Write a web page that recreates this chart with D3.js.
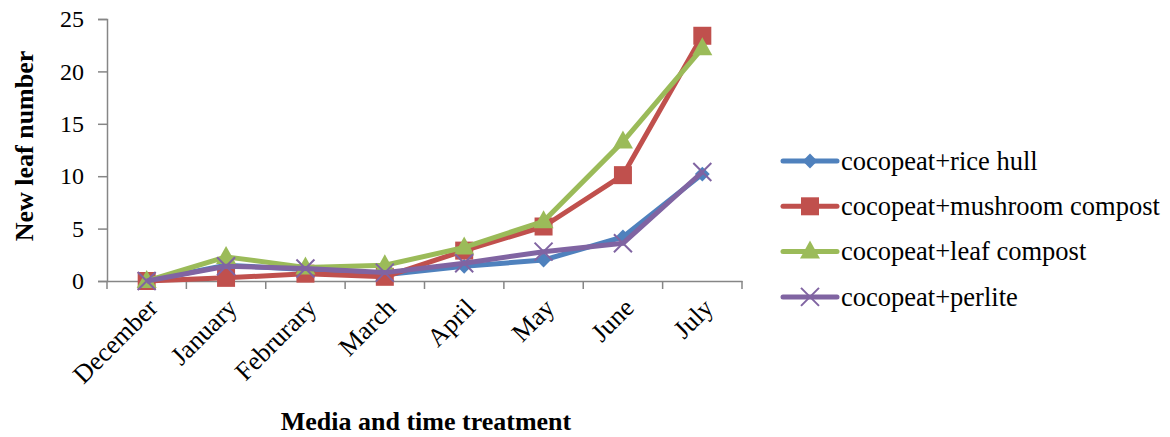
<!DOCTYPE html>
<html>
<head>
<meta charset="utf-8">
<script src="https://cdn.jsdelivr.net/npm/d3@7"></script>
<style>
  body { margin: 0; background: #fff; }
  text { font-family: "Liberation Serif", "Times New Roman", serif; fill: #000; }
</style>
</head>
<body>
<div class="chart"></div>
<script>
const months = ['December', 'January', 'Februrary', 'March', 'April', 'May', 'June', 'July'];
const riceHull = [0, 1.5, 1.1, 0.6, 1.4, 2.0, 4.2, 10.2];
const mushroomCompost = [0, 0.3, 0.7, 0.4, 2.9, 5.2, 10.1, 23.4];
const leafCompost = [0, 2.3, 1.3, 1.5, 3.2, 5.7, 13.3, 22.2];
const perlite = [0, 1.4, 1.2, 0.8, 1.7, 2.8, 3.6, 10.4];
const yTicks = [0, 5, 10, 15, 20, 25];

const series = [
  { name: 'cocopeat+rice hull', values: riceHull, color: '#4F81BD', marker: 'diamond' },
  { name: 'cocopeat+mushroom compost', values: mushroomCompost, color: '#C0504D', marker: 'square' },
  { name: 'cocopeat+leaf compost', values: leafCompost, color: '#9BBB59', marker: 'triangle' },
  { name: 'cocopeat+perlite', values: perlite, color: '#8064A2', marker: 'x' }
];

const width = 1170, height = 437;
const plot = { left: 107, right: 742, top: 19, bottom: 281 };

const svg = d3.select('.chart')
  .append('svg')
  .attr('width', width)
  .attr('height', height);

const x = d3.scaleBand()
  .domain(months)
  .range([plot.left, plot.right]);

const y = d3.scaleLinear()
  .domain([0, 25])
  .range([plot.bottom, plot.top]);

// axes
const axisColor = '#868686';
const yAxis = svg.append('g')
  .attr('transform', `translate(${plot.left},0)`)
  .call(d3.axisLeft(y).tickValues(yTicks).tickSize(9).tickPadding(14));
yAxis.select('.domain').attr('stroke', axisColor).attr('stroke-width', 1.5);
yAxis.selectAll('.tick line').attr('stroke', axisColor).attr('stroke-width', 1.5);
yAxis.selectAll('.tick text').style('font-size', '24px').attr('fill', '#000');

const xAxis = svg.append('g')
  .attr('transform', `translate(0,${plot.bottom})`)
  .call(d3.axisBottom(x).tickSize(0).tickFormat(''));
xAxis.select('.domain').attr('stroke', axisColor).attr('stroke-width', 1.5);

// category boundary ticks
const bounds = months.map(m => x(m)).concat([plot.right]);
svg.append('g').selectAll('line')
  .data(bounds)
  .join('line')
  .attr('x1', d => d).attr('x2', d => d)
  .attr('y1', plot.bottom).attr('y2', plot.bottom + 8)
  .attr('stroke', axisColor)
  .attr('stroke-width', 1.5);

svg.append('g').selectAll('text')
  .data(months)
  .join('text')
  .attr('transform', d => `translate(${x(d) + x.bandwidth() / 2 + 6},${plot.bottom + 22}) rotate(-45)`)
  .attr('text-anchor', 'end')
  .attr('dy', '0.35em')
  .style('font-size', '26px')
  .text(d => d);

// axis titles
svg.append('text')
  .attr('transform', `translate(33,146) rotate(-90)`)
  .attr('text-anchor', 'middle')
  .style('font-size', '26px')
  .style('font-weight', 'bold')
  .text('New leaf number');

svg.append('text')
  .attr('x', 426)
  .attr('y', 430)
  .attr('text-anchor', 'middle')
  .style('font-size', '26px')
  .style('font-weight', 'bold')
  .text('Media and time treatment');

// lines and markers
const line = d3.line()
  .x((d, i) => x(months[i]) + x.bandwidth() / 2)
  .y(d => y(d));

function drawMarker(g, type, color) {
  if (type === 'diamond') {
    g.append('path').attr('d', d3.symbol().type(d3.symbolDiamond2).size(140)()).attr('fill', color);
  } else if (type === 'square') {
    g.append('rect').attr('x', -9).attr('y', -9).attr('width', 18).attr('height', 18).attr('fill', color);
  } else if (type === 'triangle') {
    g.append('path').attr('d', 'M0,-11L10,7L-10,7Z').attr('fill', color);
  } else {
    g.append('path').attr('d', 'M-9,-9L9,9M-9,9L9,-9').attr('stroke', color).attr('stroke-width', 2).attr('fill', 'none');
  }
}

series.forEach(s => {
  const g = svg.append('g');
  g.append('path')
    .datum(s.values)
    .attr('d', line)
    .attr('fill', 'none')
    .attr('stroke', s.color)
    .attr('stroke-width', 5)
    .attr('stroke-linejoin', 'round');
  g.selectAll('g.pt')
    .data(s.values)
    .join('g')
    .attr('class', 'pt')
    .attr('transform', (d, i) => `translate(${x(months[i]) + x.bandwidth() / 2},${y(d)})`)
    .each(function () { drawMarker(d3.select(this), s.marker, s.color); });
});

// legend
const legend = svg.append('g');
series.forEach((s, i) => {
  const ly = 161 + i * 45.3;
  const row = legend.append('g').attr('transform', `translate(783,${ly})`);
  row.append('line')
    .attr('x1', 0).attr('x2', 54)
    .attr('y1', 0).attr('y2', 0)
    .attr('stroke', s.color)
    .attr('stroke-width', 5)
    .attr('stroke-linecap', 'round');
  const m = row.append('g').attr('transform', 'translate(27,0)');
  drawMarker(m, s.marker, s.color);
  row.append('text')
    .attr('x', 58)
    .attr('y', 0)
    .attr('dy', '0.33em')
    .style('font-size', '26.5px')
    .text(s.name);
});
</script>
</body>
</html>
